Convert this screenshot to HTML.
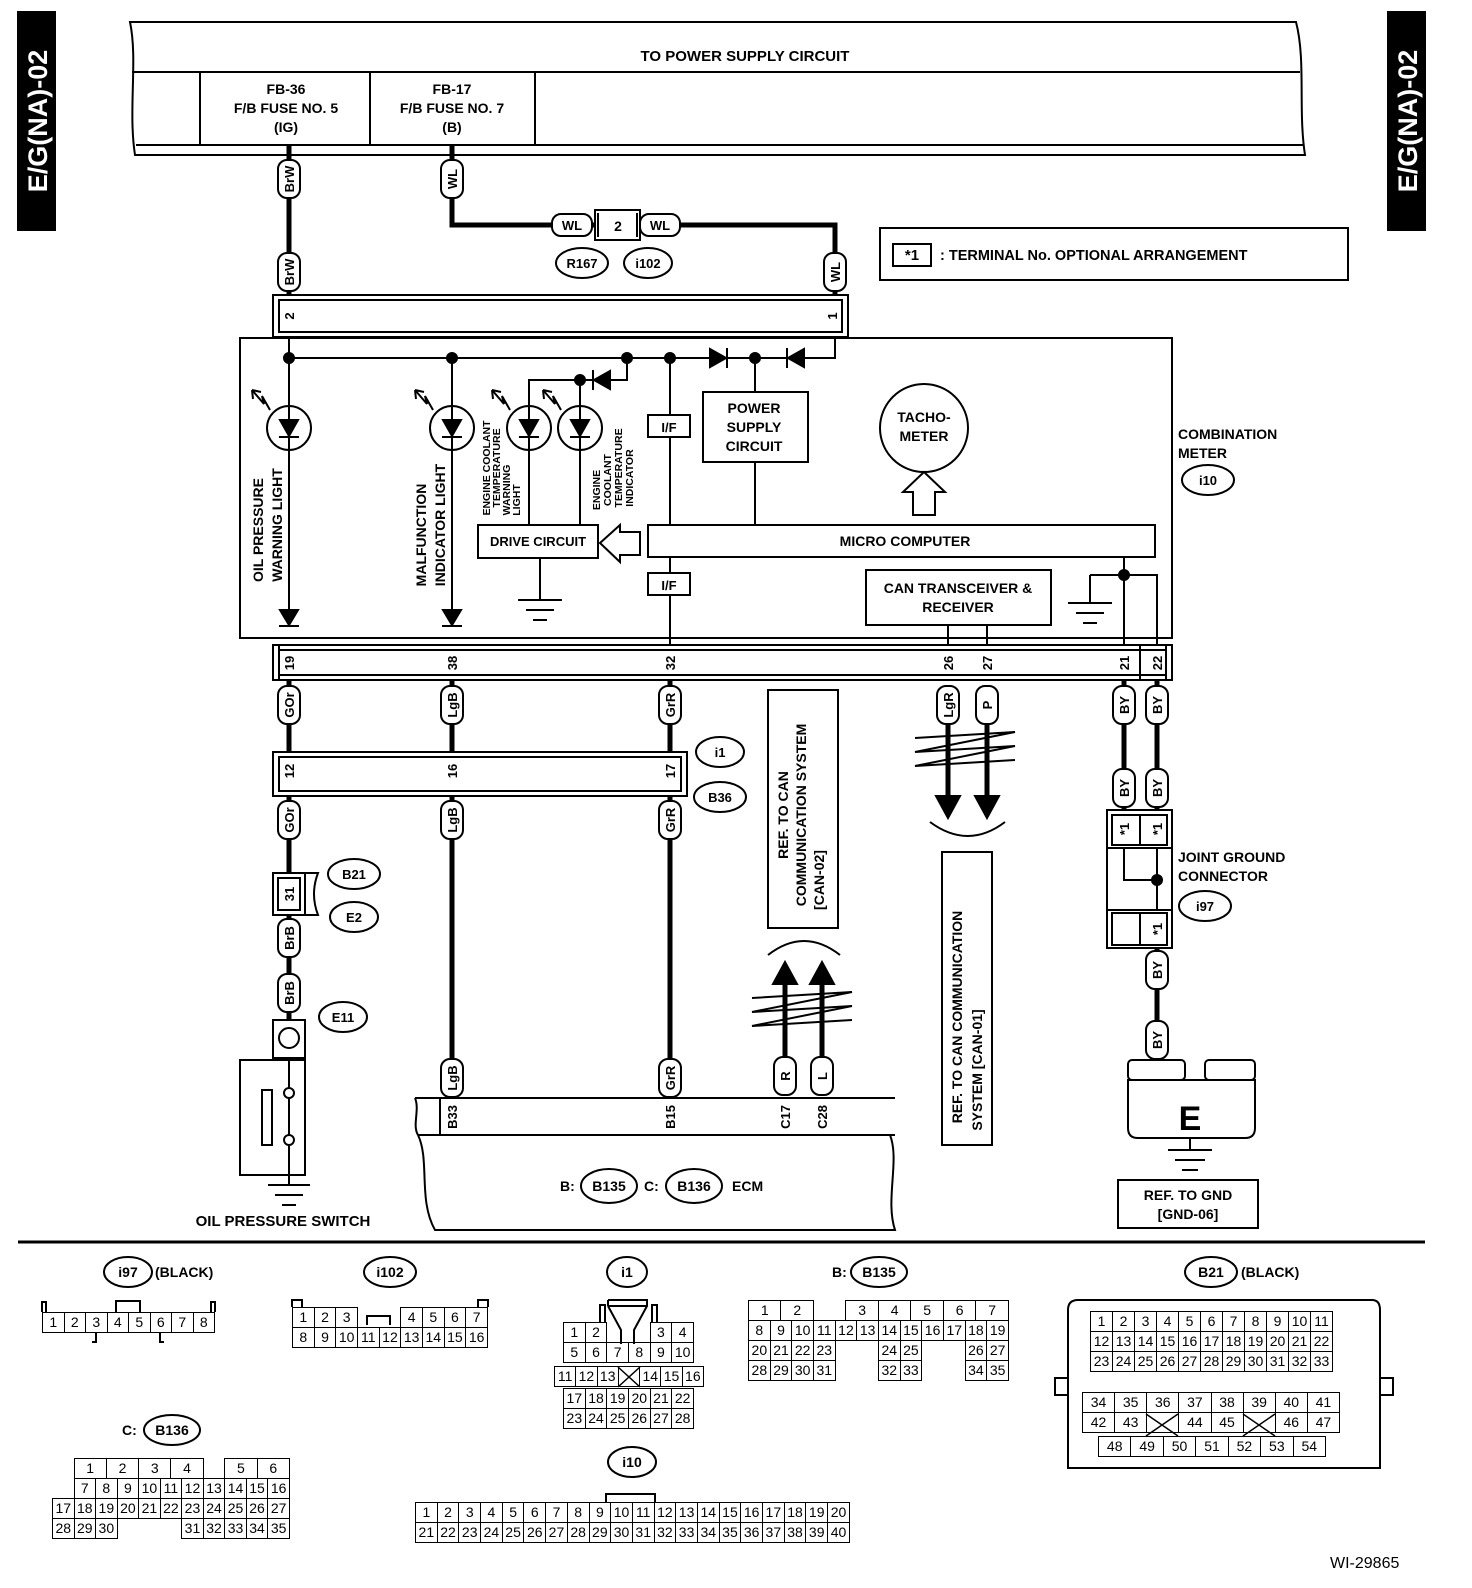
<!DOCTYPE html>
<html><head><meta charset="utf-8">
<style>
body{margin:0;background:#fff;}
#w{position:relative;width:1472px;height:1588px;overflow:hidden;background:#fff;}
svg{position:absolute;left:0;top:0;}
text{font-family:"Liberation Sans",Arial,sans-serif;font-weight:bold;fill:#000;}
table{position:absolute;border-collapse:collapse;font-family:"Liberation Sans Narrow","Liberation Sans",sans-serif;font-size:14px;table-layout:fixed;}
td{border:1.5px solid #000;text-align:center;padding:0;height:19px;line-height:19px;}
td.n{border:none;}
</style></head><body><div id="w">
<svg width="1472" height="1588" viewBox="0 0 1472 1588">
<g fill="none" stroke="#000" stroke-width="2">
<rect x="18" y="12" width="37" height="218" fill="#000"/>
<rect x="1388" y="12" width="37" height="218" fill="#000"/>
<path d="M130,22 L1296,22 C1306,60 1298,110 1305,155 L135,155 C128,110 138,60 130,22 Z"/>
<line x1="132" y1="72" x2="1300" y2="72"/>
<line x1="136" y1="145" x2="1304" y2="145"/>
<line x1="200" y1="72" x2="200" y2="145"/><line x1="370" y1="72" x2="370" y2="145"/><line x1="535" y1="72" x2="535" y2="145"/>
<rect x="880" y="228" width="468" height="52"/>
<rect x="893" y="244" width="38" height="22"/>
</g>
<g stroke="#000" stroke-width="5" fill="none">
<line x1="289" y1="145" x2="289" y2="296"/>
<path d="M452,145 L452,225 L835,225 L835,296"/>
<line x1="289" y1="680" x2="289" y2="753"/><line x1="452" y1="680" x2="452" y2="753"/><line x1="670" y1="680" x2="670" y2="753"/>
<line x1="289" y1="795" x2="289" y2="874"/><line x1="452" y1="795" x2="452" y2="1098"/><line x1="670" y1="795" x2="670" y2="1098"/>
<line x1="289" y1="915" x2="289" y2="1020"/>
<line x1="1124" y1="680" x2="1124" y2="810"/><line x1="1157" y1="680" x2="1157" y2="810"/>
<line x1="1157" y1="948" x2="1157" y2="1060"/>
</g>
<g fill="none" stroke="#000" stroke-width="2">
<rect x="595" y="210" width="45" height="30" fill="#fff"/><line x1="598" y1="213" x2="598" y2="237"/><line x1="637" y1="213" x2="637" y2="237"/>
<rect x="273" y="295" width="575" height="42" fill="#fff"/><rect x="279" y="300" width="563" height="32"/>
<rect x="240" y="338" width="932" height="300"/>
<rect x="273" y="645" width="899" height="35" fill="#fff"/><line x1="279" y1="650" x2="1166" y2="650"/><line x1="279" y1="675" x2="1166" y2="675"/>
<line x1="279" y1="645" x2="279" y2="680"/><line x1="1166" y1="645" x2="1166" y2="680"/>
<line x1="1140" y1="645" x2="1140" y2="680"/>
<rect x="273" y="752" width="414" height="44" fill="#fff"/><rect x="279" y="757" width="402" height="34"/>
<line x1="289" y1="338" x2="289" y2="625"/><line x1="452" y1="358" x2="452" y2="625"/>
<path d="M289,358 L835,358 L835,338"/>
<path d="M627,358 L627,380 L529,380 L529,527"/><line x1="580" y1="380" x2="580" y2="527"/>
<line x1="670" y1="358" x2="670" y2="645"/>
<line x1="755" y1="358" x2="755" y2="392"/><line x1="755" y1="462" x2="755" y2="527"/>
<circle cx="289" cy="428" r="22"/><circle cx="452" cy="428" r="22"/><circle cx="529" cy="428" r="22"/><circle cx="580" cy="428" r="22"/>
<rect x="648" y="415" width="42" height="22" fill="#fff"/><rect x="648" y="573" width="42" height="22" fill="#fff"/>
<rect x="703" y="392" width="105" height="70" fill="#fff"/>
<rect x="648" y="525" width="507" height="32" fill="#fff"/>
<rect x="478" y="525" width="120" height="33" fill="#fff"/>
<path d="M600,543 L620,525 L620,532 L640,532 L640,555 L620,555 L620,562 Z"/>
<circle cx="924" cy="428" r="44"/>
<path d="M924,472 L945,492 L935,492 L935,515 L913,515 L913,492 L903,492 Z"/>
<rect x="866" y="570" width="185" height="55"/>
<line x1="948" y1="625" x2="948" y2="645"/><line x1="987" y1="625" x2="987" y2="645"/>
<line x1="540" y1="558" x2="540" y2="600"/>
<line x1="518" y1="600" x2="562" y2="600"/><line x1="526" y1="610" x2="554" y2="610"/><line x1="533" y1="620" x2="547" y2="620"/>
<path d="M1124,557 L1124,645 M1090,575 L1157,575 L1157,645 M1090,575 L1090,603"/>
<line x1="1068" y1="603" x2="1112" y2="603"/><line x1="1076" y1="613" x2="1104" y2="613"/><line x1="1083" y1="623" x2="1097" y2="623"/>
<path d="M252,390 L264,404 L262,396 L270,410 M252,390 l9,2 M252,390 l1,9"/>
<path d="M415,390 L427,404 L425,396 L433,410 M415,390 l9,2 M415,390 l1,9"/>
<path d="M492,390 L504,404 L502,396 L510,410 M492,390 l9,2 M492,390 l1,9"/>
<path d="M543,390 L555,404 L553,396 L561,410 M543,390 l9,2 M543,390 l1,9"/>
<rect x="768" y="690" width="70" height="238"/><rect x="942" y="852" width="50" height="293"/>
<path d="M915,738 L1015,732 L915,752 L1015,746 L915,766 L1015,760"/>
<path d="M752,998 L852,992 L752,1012 L852,1006 L752,1026 L852,1020"/>
<path d="M930,822 Q968,850 1005,822"/><path d="M768,955 Q804,927 840,955"/>
<rect x="273" y="873" width="32" height="42" fill="#fff"/><rect x="278" y="878" width="22" height="32"/>
<path d="M305,873 L318,873 Q310,894 318,915 L305,915"/>
<rect x="273" y="1020" width="32" height="38"/><circle cx="289" cy="1038" r="10"/>
<rect x="240" y="1060" width="65" height="115"/>
<rect x="262" y="1090" width="10" height="55"/>
<circle cx="289" cy="1093" r="5"/><circle cx="289" cy="1140" r="5"/>
<path d="M289,1058 L289,1088 M289,1098 L289,1135 M289,1145 L289,1185"/>
<line x1="268" y1="1185" x2="310" y2="1185"/><line x1="275" y1="1195" x2="303" y2="1195"/><line x1="282" y1="1205" x2="296" y2="1205"/>
<path d="M415,1098 L895,1098 M418,1135 L895,1135 M415,1098 C420,1110 412,1125 418,1135 C430,1160 418,1200 435,1230 L895,1230 C885,1200 900,1160 890,1135"/>
<line x1="440" y1="1098" x2="440" y2="1135"/>
<rect x="1107" y="810" width="65" height="38"/><rect x="1112" y="815" width="55" height="30"/>
<line x1="1140" y1="815" x2="1140" y2="845"/>
<path d="M1124,848 L1124,880 L1157,880 M1157,848 L1157,910"/>
<path d="M1107,848 L1172,848 M1107,848 L1107,948 M1172,848 L1172,910"/>
<rect x="1107" y="910" width="65" height="38"/><rect x="1112" y="913" width="55" height="32"/>
<line x1="1140" y1="913" x2="1140" y2="945"/>
<rect x="1128" y="1060" width="57" height="20" rx="4"/><rect x="1205" y="1060" width="50" height="20" rx="4"/>
<path d="M1128,1080 L1255,1080 L1255,1128 Q1255,1138 1245,1138 L1138,1138 Q1128,1138 1128,1128 Z"/>
<line x1="1190" y1="1138" x2="1190" y2="1150"/>
<line x1="1168" y1="1150" x2="1212" y2="1150"/><line x1="1175" y1="1160" x2="1205" y2="1160"/><line x1="1182" y1="1170" x2="1198" y2="1170"/>
<rect x="1118" y="1180" width="140" height="48"/>
<path d="M1078,1300 L1372,1300 Q1380,1300 1380,1310 L1380,1468 L1068,1468 L1068,1310 Q1068,1300 1078,1300 Z"/>
<path d="M1068,1378 L1055,1378 L1055,1395 L1068,1395 M1380,1378 L1393,1378 L1393,1395 L1380,1395"/>
<path d="M42,1312 L42,1302 L46,1302 L46,1312 M211,1312 L211,1302 L215,1302 L215,1312 M116,1312 L116,1301 L140,1301 L140,1312 M96,1332 L96,1342 L92,1342 M160,1332 L160,1342 L164,1342"/>
<path d="M292,1307 L292,1300 L302,1300 L302,1307 M478,1307 L478,1300 L488,1300 L488,1307 M367,1325 L367,1316 L390,1316 L390,1325"/>
<path d="M608,1300 L647,1300 L647,1306 L634,1330 L634,1344 M608,1306 L608,1300 M608,1306 L621,1330 L621,1344 M600,1322 L600,1305 L605,1305 L605,1322 M652,1322 L652,1305 L657,1305 L657,1322"/>
<line x1="608" y1="1306" x2="647" y2="1306"/>
<path d="M606,1502 L606,1494 L655,1494 L655,1502"/>
</g>
<line x1="18" y1="1242" x2="1425" y2="1242" stroke="#000" stroke-width="3"/>
<g fill="#fff" stroke="#000" stroke-width="2">
<rect x="278" y="160" width="22" height="38" rx="9"/><rect x="278" y="253" width="22" height="38" rx="9"/>
<rect x="441" y="160" width="22" height="38" rx="9"/><rect x="824" y="253" width="22" height="38" rx="9"/>
<rect x="552" y="214" width="40" height="22" rx="9"/><rect x="640" y="214" width="40" height="22" rx="9"/>
<rect x="278" y="686" width="22" height="38" rx="9"/><rect x="441" y="686" width="22" height="38" rx="9"/><rect x="659" y="686" width="22" height="38" rx="9"/>
<rect x="937" y="686" width="22" height="38" rx="9"/><rect x="976" y="686" width="22" height="38" rx="9"/>
<rect x="1113" y="686" width="22" height="38" rx="9"/><rect x="1146" y="686" width="22" height="38" rx="9"/>
<rect x="278" y="801" width="22" height="38" rx="9"/><rect x="441" y="801" width="22" height="38" rx="9"/><rect x="659" y="801" width="22" height="38" rx="9"/>
<rect x="1113" y="769" width="22" height="38" rx="9"/><rect x="1146" y="769" width="22" height="38" rx="9"/>
<rect x="1146" y="951" width="22" height="38" rx="9"/><rect x="1146" y="1021" width="22" height="38" rx="9"/>
<rect x="278" y="919" width="22" height="38" rx="9"/><rect x="278" y="974" width="22" height="38" rx="9"/>
<rect x="441" y="1059" width="22" height="38" rx="9"/><rect x="659" y="1059" width="22" height="38" rx="9"/>
<rect x="774" y="1057" width="22" height="38" rx="9"/><rect x="811" y="1057" width="22" height="38" rx="9"/>
<ellipse cx="582" cy="263" rx="26" ry="15"/><ellipse cx="648" cy="263" rx="24" ry="15"/>
<ellipse cx="1208" cy="480" rx="26" ry="15"/><ellipse cx="720" cy="752" rx="24" ry="15"/><ellipse cx="720" cy="797" rx="26" ry="15"/>
<ellipse cx="354" cy="874" rx="26" ry="15"/><ellipse cx="354" cy="917" rx="24" ry="15"/><ellipse cx="343" cy="1017" rx="24" ry="15"/>
<ellipse cx="1205" cy="906" rx="26" ry="15"/>
<ellipse cx="609" cy="1186" rx="28" ry="17"/><ellipse cx="694" cy="1186" rx="28" ry="17"/>
<ellipse cx="128" cy="1272" rx="24" ry="15"/><ellipse cx="390" cy="1272" rx="26" ry="15"/><ellipse cx="627" cy="1272" rx="20" ry="15"/>
<ellipse cx="879" cy="1272" rx="28" ry="15"/><ellipse cx="1211" cy="1272" rx="26" ry="15"/>
<ellipse cx="172" cy="1430" rx="28" ry="15"/><ellipse cx="632" cy="1462" rx="24" ry="15"/>
</g>
<g fill="#000" stroke="#000" stroke-width="2">
<circle cx="289" cy="358" r="5"/><circle cx="452" cy="358" r="5"/><circle cx="627" cy="358" r="5"/><circle cx="670" cy="358" r="5"/><circle cx="755" cy="358" r="5"/>
<circle cx="580" cy="380" r="5"/><circle cx="1124" cy="575" r="5"/><circle cx="1157" cy="880" r="5"/>
<path d="M710,349 L726,358 L710,367 Z"/><line x1="727" y1="348" x2="727" y2="368"/>
<path d="M804,349 L788,358 L804,367 Z"/><line x1="787" y1="348" x2="787" y2="368"/>
<path d="M610,371 L594,380 L610,389 Z"/><line x1="593" y1="370" x2="593" y2="390"/>
<path d="M280,420 L298,420 L289,436 Z"/><line x1="279" y1="437" x2="299" y2="437"/>
<path d="M443,420 L461,420 L452,436 Z"/><line x1="442" y1="437" x2="462" y2="437"/>
<path d="M520,420 L538,420 L529,436 Z"/><line x1="519" y1="437" x2="539" y2="437"/>
<path d="M571,420 L589,420 L580,436 Z"/><line x1="570" y1="437" x2="590" y2="437"/>
<path d="M280,610 L298,610 L289,625 Z"/><line x1="279" y1="626" x2="299" y2="626"/>
<path d="M443,610 L461,610 L452,625 Z"/><line x1="442" y1="626" x2="462" y2="626"/>
<path d="M948,724 L948,800 M987,724 L987,800" stroke-width="5"/>
<path d="M936,796 L960,796 L948,818 Z"/><path d="M975,796 L999,796 L987,818 Z"/>
<path d="M785,1057 L785,980 M822,1057 L822,980" stroke-width="5"/>
<path d="M773,984 L797,984 L785,962 Z"/><path d="M810,984 L834,984 L822,962 Z"/>
</g>
<g font-size="14">
<text transform="translate(47,121) rotate(-90)" text-anchor="middle" style="fill:#fff" font-size="27">E/G(NA)-02</text>
<text transform="translate(1417,121) rotate(-90)" text-anchor="middle" style="fill:#fff" font-size="27">E/G(NA)-02</text>
<text x="745" y="61" text-anchor="middle" font-size="15">TO POWER SUPPLY CIRCUIT</text>
<text x="286" y="94" text-anchor="middle">FB-36</text><text x="286" y="113" text-anchor="middle">F/B FUSE NO. 5</text><text x="286" y="132" text-anchor="middle">(IG)</text>
<text x="452" y="94" text-anchor="middle">FB-17</text><text x="452" y="113" text-anchor="middle">F/B FUSE NO. 7</text><text x="452" y="132" text-anchor="middle">(B)</text>
<text x="912" y="260" text-anchor="middle" font-size="15">*1</text>
<text x="940" y="260" font-size="14.5">: TERMINAL No. OPTIONAL ARRANGEMENT</text>
<text x="572" y="230" text-anchor="middle" font-size="13">WL</text><text x="660" y="230" text-anchor="middle" font-size="13">WL</text><text x="618" y="231" text-anchor="middle">2</text>
<text x="582" y="268" text-anchor="middle" font-size="13">R167</text><text x="648" y="268" text-anchor="middle" font-size="13">i102</text>
<text x="1178" y="439">COMBINATION</text><text x="1178" y="458">METER</text><text x="1208" y="485" text-anchor="middle" font-size="13">i10</text>
<text x="754" y="413" text-anchor="middle">POWER</text><text x="754" y="432" text-anchor="middle">SUPPLY</text><text x="754" y="451" text-anchor="middle">CIRCUIT</text>
<text x="924" y="422" text-anchor="middle">TACHO-</text><text x="924" y="441" text-anchor="middle">METER</text>
<text x="905" y="546" text-anchor="middle">MICRO COMPUTER</text>
<text x="538" y="546" text-anchor="middle" font-size="13">DRIVE CIRCUIT</text>
<text x="669" y="432" text-anchor="middle" font-size="13">I/F</text><text x="669" y="590" text-anchor="middle" font-size="13">I/F</text>
<text x="958" y="593" text-anchor="middle">CAN TRANSCEIVER &amp;</text><text x="958" y="612" text-anchor="middle">RECEIVER</text>
<text transform="translate(263,530) rotate(-90)" text-anchor="middle">OIL PRESSURE</text>
<text transform="translate(282,525) rotate(-90)" text-anchor="middle">WARNING LIGHT</text>
<text transform="translate(426,535) rotate(-90)" text-anchor="middle">MALFUNCTION</text>
<text transform="translate(445,525) rotate(-90)" text-anchor="middle">INDICATOR LIGHT</text>
<g font-size="10.5"><text transform="translate(490,468) rotate(-90)" text-anchor="middle">ENGINE COOLANT</text>
<text transform="translate(500,468) rotate(-90)" text-anchor="middle">TEMPERATURE</text>
<text transform="translate(510,490) rotate(-90)" text-anchor="middle">WARNING</text>
<text transform="translate(520,500) rotate(-90)" text-anchor="middle">LIGHT</text>
<text transform="translate(600,490) rotate(-90)" text-anchor="middle">ENGINE</text>
<text transform="translate(611,480) rotate(-90)" text-anchor="middle">COOLANT</text>
<text transform="translate(622,468) rotate(-90)" text-anchor="middle">TEMPERATURE</text>
<text transform="translate(633,478) rotate(-90)" text-anchor="middle">INDICATOR</text></g>
<g font-size="13">
<text transform="translate(294,316) rotate(-90)" text-anchor="middle">2</text>
<text transform="translate(837,316) rotate(-90)" text-anchor="middle">1</text>
<text transform="translate(294,663) rotate(-90)" text-anchor="middle">19</text>
<text transform="translate(457,663) rotate(-90)" text-anchor="middle">38</text>
<text transform="translate(675,663) rotate(-90)" text-anchor="middle">32</text>
<text transform="translate(953,663) rotate(-90)" text-anchor="middle">26</text>
<text transform="translate(992,663) rotate(-90)" text-anchor="middle">27</text>
<text transform="translate(1129,663) rotate(-90)" text-anchor="middle">21</text>
<text transform="translate(1162,663) rotate(-90)" text-anchor="middle">22</text>
<text transform="translate(294,771) rotate(-90)" text-anchor="middle">12</text>
<text transform="translate(457,771) rotate(-90)" text-anchor="middle">16</text>
<text transform="translate(675,771) rotate(-90)" text-anchor="middle">17</text>
<text transform="translate(294,894) rotate(-90)" text-anchor="middle">31</text>
<text transform="translate(457,1117) rotate(-90)" text-anchor="middle">B33</text>
<text transform="translate(675,1117) rotate(-90)" text-anchor="middle">B15</text>
<text transform="translate(790,1117) rotate(-90)" text-anchor="middle">C17</text>
<text transform="translate(827,1117) rotate(-90)" text-anchor="middle">C28</text>
<text transform="translate(1129,829) rotate(-90)" text-anchor="middle">*1</text>
<text transform="translate(1162,829) rotate(-90)" text-anchor="middle">*1</text>
<text transform="translate(1162,929) rotate(-90)" text-anchor="middle">*1</text>
<text transform="translate(294,179) rotate(-90)" text-anchor="middle">BrW</text>
<text transform="translate(294,272) rotate(-90)" text-anchor="middle">BrW</text>
<text transform="translate(457,179) rotate(-90)" text-anchor="middle">WL</text>
<text transform="translate(840,272) rotate(-90)" text-anchor="middle">WL</text>
<text transform="translate(294,705) rotate(-90)" text-anchor="middle">GOr</text>
<text transform="translate(457,705) rotate(-90)" text-anchor="middle">LgB</text>
<text transform="translate(675,705) rotate(-90)" text-anchor="middle">GrR</text>
<text transform="translate(953,705) rotate(-90)" text-anchor="middle">LgR</text>
<text transform="translate(992,705) rotate(-90)" text-anchor="middle">P</text>
<text transform="translate(1129,705) rotate(-90)" text-anchor="middle">BY</text>
<text transform="translate(1162,705) rotate(-90)" text-anchor="middle">BY</text>
<text transform="translate(294,820) rotate(-90)" text-anchor="middle">GOr</text>
<text transform="translate(457,820) rotate(-90)" text-anchor="middle">LgB</text>
<text transform="translate(675,820) rotate(-90)" text-anchor="middle">GrR</text>
<text transform="translate(1129,788) rotate(-90)" text-anchor="middle">BY</text>
<text transform="translate(1162,788) rotate(-90)" text-anchor="middle">BY</text>
<text transform="translate(1162,970) rotate(-90)" text-anchor="middle">BY</text>
<text transform="translate(1162,1040) rotate(-90)" text-anchor="middle">BY</text>
<text transform="translate(294,938) rotate(-90)" text-anchor="middle">BrB</text>
<text transform="translate(294,993) rotate(-90)" text-anchor="middle">BrB</text>
<text transform="translate(457,1078) rotate(-90)" text-anchor="middle">LgB</text>
<text transform="translate(675,1078) rotate(-90)" text-anchor="middle">GrR</text>
<text transform="translate(790,1076) rotate(-90)" text-anchor="middle">R</text>
<text transform="translate(827,1076) rotate(-90)" text-anchor="middle">L</text>
</g>
<text x="720" y="757" text-anchor="middle" font-size="13">i1</text><text x="720" y="802" text-anchor="middle" font-size="13">B36</text>
<text x="354" y="879" text-anchor="middle" font-size="13">B21</text><text x="354" y="922" text-anchor="middle" font-size="13">E2</text>
<text x="343" y="1022" text-anchor="middle" font-size="13">E11</text>
<text x="1178" y="862">JOINT GROUND</text><text x="1178" y="881">CONNECTOR</text>
<text x="1205" y="911" text-anchor="middle" font-size="13">i97</text>
<text transform="translate(788,815) rotate(-90)" text-anchor="middle">REF. TO CAN</text>
<text transform="translate(806,815) rotate(-90)" text-anchor="middle">COMMUNICATION SYSTEM</text>
<text transform="translate(824,880) rotate(-90)" text-anchor="middle">[CAN-02]</text>
<text transform="translate(962,1017) rotate(-90)" text-anchor="middle">REF. TO CAN COMMUNICATION</text>
<text transform="translate(982,1070) rotate(-90)" text-anchor="middle">SYSTEM [CAN-01]</text>
<text x="1190" y="1130" text-anchor="middle" font-size="34">E</text>
<text x="1188" y="1200" text-anchor="middle">REF. TO GND</text><text x="1188" y="1219" text-anchor="middle">[GND-06]</text>
<text x="283" y="1226" text-anchor="middle" font-size="15">OIL PRESSURE SWITCH</text>
<text x="560" y="1191">B:</text><text x="609" y="1191" text-anchor="middle">B135</text>
<text x="644" y="1191">C:</text><text x="694" y="1191" text-anchor="middle">B136</text>
<text x="732" y="1191">ECM</text>
<text x="128" y="1277" text-anchor="middle">i97</text><text x="155" y="1277">(BLACK)</text>
<text x="390" y="1277" text-anchor="middle">i102</text>
<text x="627" y="1277" text-anchor="middle">i1</text>
<text x="832" y="1277">B:</text><text x="879" y="1277" text-anchor="middle">B135</text>
<text x="1211" y="1277" text-anchor="middle">B21</text><text x="1241" y="1277">(BLACK)</text>
<text x="122" y="1435">C:</text><text x="172" y="1435" text-anchor="middle">B136</text>
<text x="632" y="1467" text-anchor="middle">i10</text>
<text x="1330" y="1568" style="font-weight:normal" font-size="16">WI-29865</text>
</g>
<g stroke="#000" stroke-width="1.5">
<path d="M618,1367 L640,1387 M640,1367 L618,1387"/>
<path d="M1146,1414 L1178,1436 M1178,1414 L1146,1436"/>
<path d="M1243,1414 L1275,1436 M1275,1414 L1243,1436"/>
</g>
</svg>

<table style="left:42px;top:1312px;width:173px"><tr><td>1</td><td>2</td><td>3</td><td>4</td><td>5</td><td>6</td><td>7</td><td>8</td></tr></table>

<table style="left:292px;top:1307px;width:196px"><tr><td>1</td><td>2</td><td>3</td><td class="n"></td><td class="n"></td><td>4</td><td>5</td><td>6</td><td>7</td></tr>
<tr><td>8</td><td>9</td><td>10</td><td>11</td><td>12</td><td>13</td><td>14</td><td>15</td><td>16</td></tr></table>

<table style="left:563px;top:1322px;width:131px"><tr><td>1</td><td>2</td><td class="n"></td><td class="n"></td><td>3</td><td>4</td></tr>
<tr><td>5</td><td>6</td><td>7</td><td>8</td><td>9</td><td>10</td></tr></table>
<table style="left:554px;top:1366px;width:150px"><tr><td>11</td><td>12</td><td>13</td><td></td><td>14</td><td>15</td><td>16</td></tr></table>
<table style="left:563px;top:1388px;width:131px"><tr><td>17</td><td>18</td><td>19</td><td>20</td><td>21</td><td>22</td></tr>
<tr><td>23</td><td>24</td><td>25</td><td>26</td><td>27</td><td>28</td></tr></table>

<table style="left:748px;top:1300px;width:261px"><tr><td colspan="3">1</td><td colspan="3">2</td><td class="n" colspan="3"></td><td colspan="3">3</td><td colspan="3">4</td><td colspan="3">5</td><td colspan="3">6</td><td colspan="3">7</td></tr>
<tr><td colspan="2">8</td><td colspan="2">9</td><td colspan="2">10</td><td colspan="2">11</td><td colspan="2">12</td><td colspan="2">13</td><td colspan="2">14</td><td colspan="2">15</td><td colspan="2">16</td><td colspan="2">17</td><td colspan="2">18</td><td colspan="2">19</td></tr>
<tr><td colspan="2">20</td><td colspan="2">21</td><td colspan="2">22</td><td colspan="2">23</td><td class="n" colspan="4"></td><td colspan="2">24</td><td colspan="2">25</td><td class="n" colspan="4"></td><td colspan="2">26</td><td colspan="2">27</td></tr>
<tr><td colspan="2">28</td><td colspan="2">29</td><td colspan="2">30</td><td colspan="2">31</td><td class="n" colspan="4"></td><td colspan="2">32</td><td colspan="2">33</td><td class="n" colspan="4"></td><td colspan="2">34</td><td colspan="2">35</td></tr></table>

<table style="left:1090px;top:1311px;width:243px"><tr><td>1</td><td>2</td><td>3</td><td>4</td><td>5</td><td>6</td><td>7</td><td>8</td><td>9</td><td>10</td><td>11</td></tr>
<tr><td>12</td><td>13</td><td>14</td><td>15</td><td>16</td><td>17</td><td>18</td><td>19</td><td>20</td><td>21</td><td>22</td></tr>
<tr><td>23</td><td>24</td><td>25</td><td>26</td><td>27</td><td>28</td><td>29</td><td>30</td><td>31</td><td>32</td><td>33</td></tr></table>
<table style="left:1082px;top:1392px;width:258px"><tr><td>34</td><td>35</td><td>36</td><td>37</td><td>38</td><td>39</td><td>40</td><td>41</td></tr>
<tr><td>42</td><td>43</td><td></td><td>44</td><td>45</td><td></td><td>46</td><td>47</td></tr></table>
<table style="left:1098px;top:1436px;width:228px"><tr><td>48</td><td>49</td><td>50</td><td>51</td><td>52</td><td>53</td><td>54</td></tr></table>

<table style="left:52px;top:1458px;width:238px"><tr><td class="n" colspan="2"></td><td colspan="3">1</td><td colspan="3">2</td><td colspan="3">3</td><td colspan="3">4</td><td class="n" colspan="2"></td><td colspan="3">5</td><td colspan="3">6</td></tr>
<tr><td class="n" colspan="2"></td><td colspan="2">7</td><td colspan="2">8</td><td colspan="2">9</td><td colspan="2">10</td><td colspan="2">11</td><td colspan="2">12</td><td colspan="2">13</td><td colspan="2">14</td><td colspan="2">15</td><td colspan="2">16</td></tr>
<tr><td colspan="2">17</td><td colspan="2">18</td><td colspan="2">19</td><td colspan="2">20</td><td colspan="2">21</td><td colspan="2">22</td><td colspan="2">23</td><td colspan="2">24</td><td colspan="2">25</td><td colspan="2">26</td><td colspan="2">27</td></tr>
<tr><td colspan="2">28</td><td colspan="2">29</td><td colspan="2">30</td><td class="n" colspan="6"></td><td colspan="2">31</td><td colspan="2">32</td><td colspan="2">33</td><td colspan="2">34</td><td colspan="2">35</td></tr></table>

<table style="left:415px;top:1502px;width:435px"><tr><td>1</td><td>2</td><td>3</td><td>4</td><td>5</td><td>6</td><td>7</td><td>8</td><td>9</td><td>10</td><td>11</td><td>12</td><td>13</td><td>14</td><td>15</td><td>16</td><td>17</td><td>18</td><td>19</td><td>20</td></tr>
<tr><td>21</td><td>22</td><td>23</td><td>24</td><td>25</td><td>26</td><td>27</td><td>28</td><td>29</td><td>30</td><td>31</td><td>32</td><td>33</td><td>34</td><td>35</td><td>36</td><td>37</td><td>38</td><td>39</td><td>40</td></tr></table>
</div></body></html>
